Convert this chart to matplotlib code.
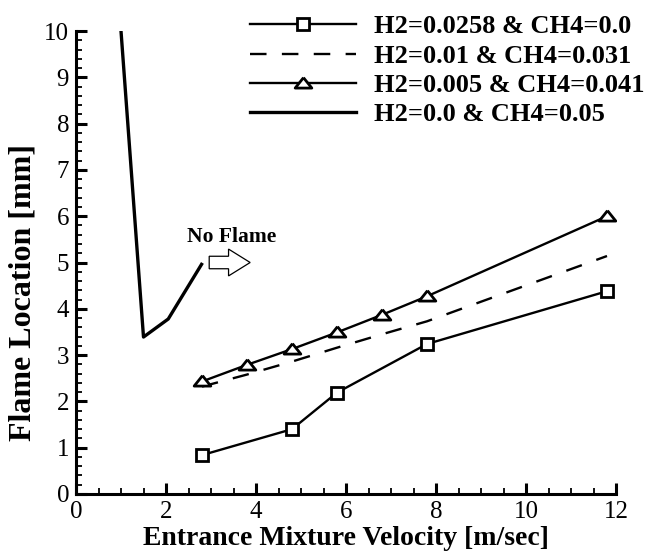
import matplotlib
matplotlib.use("Agg")
import matplotlib.pyplot as plt
from matplotlib.patches import FancyArrow
from matplotlib.ticker import MultipleLocator

plt.rcParams["font.family"] = ["Liberation Serif", "DejaVu Serif"]

# H2=0.0258 & CH4=0.0 (squares)
x_sq = [2.8, 4.8, 5.8, 7.8, 11.8]
y_sq = [0.84, 1.40, 2.19, 3.24, 4.38]

# H2=0.01 & CH4=0.031 (dashed)
x_dash = [2.8, 3.8, 4.8, 5.8, 6.8, 7.8, 11.8]
y_dash = [2.32, 2.58, 2.86, 3.16, 3.45, 3.73, 5.14]

# H2=0.005 & CH4=0.041 (triangles)
x_tri = [2.8, 3.8, 4.8, 5.8, 6.8, 7.8, 11.8]
y_tri = [2.43, 2.79, 3.13, 3.49, 3.87, 4.27, 6.0]

# H2=0.0 & CH4=0.05 (thick solid)
x_ch4 = [1.0, 1.5, 2.05, 2.79]
y_ch4 = [10.0, 3.39, 3.78, 4.96]

labels = [
    "H2=0.0258 & CH4=0.0",
    "H2=0.01 & CH4=0.031",
    "H2=0.005 & CH4=0.041",
    "H2=0.0 & CH4=0.05",
]

fig = plt.figure(figsize=(6.48, 5.54), dpi=100)
ax = fig.add_axes([76 / 648, 60 / 554, 540 / 648, 463 / 554])

tri_marker = [(0, 0.7), (-1, -0.55), (1, -0.55), (0, 0.7)]

ax.plot(x_sq, y_sq, color="black", lw=1.7, marker="s", ms=9,
        mfc="white", mec="black", mew=2, label=labels[0])
ax.plot(x_dash, y_dash, color="black", lw=1.7, linestyle=(0, (7, 6.5)),
        label=labels[1])
ax.plot(x_tri, y_tri, color="black", lw=1.7, marker=tri_marker, ms=12,
        mfc="white", mec="black", mew=2, label=labels[2])
ax.plot(x_ch4, y_ch4, color="black", lw=2.4, label=labels[3])

# "No Flame" note with a hollow block arrow
ax.text(3.45, 5.55, "No Flame", fontsize=15.5, fontweight="bold",
        ha="center", va="center")
ax.add_patch(FancyArrow(2.96, 5.0, 0.91, 0.0, width=0.27, head_width=0.58,
                        head_length=0.48, length_includes_head=True,
                        facecolor="white", edgecolor="black", lw=0.9))

ax.set_xlim(0, 12)
ax.set_ylim(0, 10)
ax.xaxis.set_major_locator(MultipleLocator(2))
ax.xaxis.set_minor_locator(MultipleLocator(0.5))
ax.yaxis.set_major_locator(MultipleLocator(1))
ax.yaxis.set_minor_locator(MultipleLocator(0.2))

for side in ["top", "right"]:
    ax.spines[side].set_visible(False)
for side in ["left", "bottom"]:
    ax.spines[side].set_linewidth(2.2)

ax.tick_params(which="major", direction="in", length=8, width=2.2,
               labelsize=18, pad=5)
ax.tick_params(which="minor", direction="in", length=4, width=1.3)

ax.set_xlabel("Entrance Mixture Velocity [m/sec]", fontsize=20,
              fontweight="bold", labelpad=2)
ax.set_ylabel("Flame Location [mm]", fontsize=23, fontweight="bold")
ax.yaxis.set_label_coords(-0.072, 0.436)

ax.legend(loc="upper left", bbox_to_anchor=(250 / 648, 1 - 15 / 554),
          bbox_transform=fig.transFigure, frameon=False,
          prop={"weight": "bold", "size": 19}, handlelength=4.0,
          handletextpad=0.7, labelspacing=0.22, borderpad=0,
          borderaxespad=0)

fig.savefig("out.png", dpi=100)
